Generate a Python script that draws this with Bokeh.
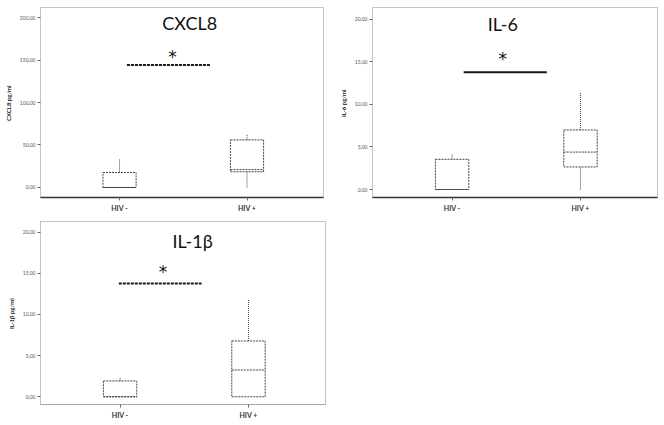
from bokeh.plotting import figure
from bokeh.layouts import column, row
from bokeh.models import FixedTicker, ColumnDataSource
from bokeh.core.properties import value
from bokeh.embed import file_html
from bokeh.resources import INLINE

groups = ["HIV -", "HIV +"]
xpos = [1, 2]

# CXCL8 (pg/ml)
cxcl8_lower = [0, 0]
cxcl8_q1 = [0, 18.5]
cxcl8_median = [0, 21]
cxcl8_q3 = [17.6, 56]
cxcl8_upper = [33, 62]
cxcl8_ticks = [0, 50, 100, 150, 200]
cxcl8_tick_labels = ["0,00", "50,00", "100,00", "150,00", "200,00"]

# IL-6 (pg/ml)
il6_lower = [0, 0]
il6_q1 = [0, 2.65]
il6_median = [0, 4.4]
il6_q3 = [3.55, 7.0]
il6_upper = [4.2, 11.35]
il6_ticks = [0, 5, 10, 15, 20]
il6_tick_labels = ["0,00", "5,00", "10,00", "15,00", "20,00"]

# IL-1beta (pg/ml)
il1b_lower = [0, 0]
il1b_q1 = [0, 0]
il1b_median = [0, 3.25]
il1b_q3 = [1.92, 6.78]
il1b_upper = [2.3, 11.8]
il1b_ticks = [0, 5, 10, 15, 20]
il1b_tick_labels = ["0,00", "5,00", "10,00", "15,00", "20,00"]

FONT = "Lato"
BOXC = "#444444"


def panel(title, ylabel, lower, q1, med, q3, upper, ticks, tick_labels,
          yr, sig_y, sig_x0, sig_x1, star_x, star_y, title_x, title_y,
          sig_dash, bottom_solid, width, height, mbl, mbr, mbt, mbb):
    p = figure(width=width, height=height, x_range=(0.38, 2.6), y_range=yr,
               output_backend="svg", toolbar_location=None,
               min_border_left=mbl, min_border_right=mbr,
               min_border_top=mbt, min_border_bottom=mbb)
    p.xgrid.visible = False
    p.ygrid.visible = False
    p.outline_line_color = "#888888"
    p.outline_line_dash = "1 1"
    p.outline_line_width = 1
    p.background_fill_color = "white"
    p.border_fill_color = "white"

    src = ColumnDataSource(dict(x=xpos, lower=lower, q1=q1, med=med, q3=q3, upper=upper))
    w = 0.26
    p.segment(x0="x", y0="q3", x1="x", y1="upper", source=src, line_color=BOXC,
              line_dash="1 1", line_width=1)
    p.segment(x0="x", y0="lower", x1="x", y1="q1", source=src, line_color=BOXC,
              line_dash="1 1", line_width=1)
    p.rect(x="x", y="upper", width=0.1, height=0, source=src, line_color=BOXC,
           line_dash="1 1", line_width=1, fill_alpha=0)
    p.rect(x="x", y="lower", width=0.1, height=0, source=src, line_color=BOXC,
           line_dash="1 1", line_width=1, fill_alpha=0)
    p.quad(left=[x - w / 2 for x in xpos], right=[x + w / 2 for x in xpos],
           bottom=q1, top=q3, fill_color="white", line_color=BOXC,
           line_dash="2 1", line_width=1)
    p.segment(x0=[x - w / 2 for x in xpos], x1=[x + w / 2 for x in xpos],
              y0=med, y1=med, line_color=BOXC, line_dash="2 1", line_width=1)

    p.segment(x0=[sig_x0], x1=[sig_x1], y0=[sig_y], y1=[sig_y], line_color="#1a1a1a",
              line_width=2, line_dash=sig_dash)
    p.text(x=[star_x], y=[star_y], text=["*"], text_font=value("DejaVu Sans"),
           text_font_size="17px", text_align="center", text_baseline="middle",
           text_color="#111111")
    p.text(x=[title_x], y=[title_y], text=[title], text_font=value(FONT),
           text_font_size="18px", text_align="center", text_baseline="middle",
           text_color="#111111")

    p.yaxis.ticker = FixedTicker(ticks=ticks)
    p.yaxis.major_label_overrides = {t: l for t, l in zip(ticks, tick_labels)}
    p.yaxis.minor_tick_line_color = None
    p.yaxis.major_tick_in = 0
    p.yaxis.major_tick_out = 3
    p.yaxis.major_tick_line_color = "#666666"
    p.yaxis.axis_line_color = None
    p.yaxis.major_label_text_font_size = "5px"
    p.yaxis.major_label_text_color = "#555555"
    p.yaxis.major_label_text_font = FONT
    p.yaxis.major_label_standoff = 2
    p.yaxis.axis_label = ylabel
    p.yaxis.axis_label_text_font_size = "6px"
    p.yaxis.axis_label_text_font_style = "bold"
    p.yaxis.axis_label_text_font = FONT
    p.yaxis.axis_label_text_color = "#222222"
    p.yaxis.axis_label_standoff = 5

    p.xaxis.ticker = FixedTicker(ticks=xpos)
    p.xaxis.major_label_overrides = {x: g for x, g in zip(xpos, groups)}
    p.xaxis.minor_tick_line_color = None
    p.xaxis.major_tick_in = 0
    p.xaxis.major_tick_out = 3
    p.xaxis.major_tick_line_color = "#666666"
    p.xaxis.major_label_text_font_size = "7px"
    p.xaxis.major_label_text_font_style = "bold"
    p.xaxis.major_label_text_font = FONT
    p.xaxis.major_label_text_color = "#333333"
    p.xaxis.major_label_standoff = 3
    if bottom_solid:
        p.xaxis.axis_line_color = "#333333"
        p.xaxis.axis_line_width = 1.5
    else:
        p.xaxis.axis_line_color = "#888888"
        p.xaxis.axis_line_dash = "1 1"
    return p


p1 = panel("CXCL8", "CXCL8  pg/ml", cxcl8_lower, cxcl8_q1, cxcl8_median, cxcl8_q3,
           cxcl8_upper, cxcl8_ticks, cxcl8_tick_labels, (-11.8, 211.8),
           144, 1.058, 1.712, 1.416, 154, 1.55, 193, "3 1", True,
           336, 217, 40, 13, 7, 20)
p2 = panel("IL-6", "IL-6  pg/ml", il6_lower, il6_q1, il6_median, il6_q3,
           il6_upper, il6_ticks, il6_tick_labels, (-0.94, 21.4),
           13.8, 1.09, 1.738, 1.395, 15.4, 1.395, 19.5, "solid", True,
           324, 217, 35, 3, 7, 20)
p3 = panel("IL-1β", "IL-1β  pg/ml", il1b_lower, il1b_q1, il1b_median, il1b_q3,
           il1b_upper, il1b_ticks, il1b_tick_labels, (-0.94, 21.3),
           13.76, 0.99, 1.635, 1.335, 15.2, 1.565, 18.9, "3 1", False,
           336, 204, 40, 11, 4, 11)

layout = column(row(p1, p2), p3)
open("out.html", "w").write(file_html(layout, INLINE))
